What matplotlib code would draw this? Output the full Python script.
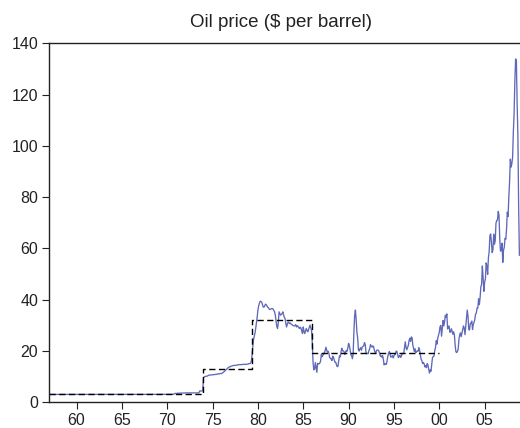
import matplotlib
matplotlib.use("Agg")
import matplotlib.pyplot as plt
import numpy as np

plt.rcParams['font.family'] = ['Liberation Sans', 'DejaVu Sans']

# monthly oil price, Jan 1957 .. Nov 2008
start_year = 1957
oil_1957_69 = [
    2.97, 2.97, 2.97, 2.97, 2.97, 2.97, 2.97, 2.97, 2.97, 2.97, 2.97, 2.97,
    2.97, 2.97, 2.97, 2.97, 2.97, 2.97, 2.97, 2.97, 2.97, 2.97, 2.97, 2.97,
    2.97, 2.97, 2.97, 2.97, 2.97, 2.97, 2.97, 2.97, 2.97, 2.97, 2.97, 2.97,
    2.97, 2.97, 2.97, 2.97, 2.97, 2.97, 2.97, 2.97, 2.97, 2.97, 2.97, 2.97,
    2.97, 2.97, 2.97, 2.97, 2.97, 2.97, 2.97, 2.97, 2.97, 2.97, 2.97, 2.97,
    2.97, 2.97, 2.97, 2.97, 2.97, 2.97, 2.97, 2.97, 2.97, 2.97, 2.97, 2.97,
    2.97, 2.97, 2.97, 2.97, 2.97, 2.97, 2.97, 2.97, 2.97, 2.97, 2.97, 2.97,
    2.97, 2.97, 2.97, 2.97, 2.97, 2.97, 2.97, 2.97, 2.97, 2.97, 2.97, 2.97,
    2.97, 2.97, 2.97, 2.97, 2.97, 2.97, 2.97, 2.97, 2.97, 2.97, 2.97, 2.97,
    2.97, 2.97, 2.97, 2.97, 2.97, 2.97, 2.97, 2.97, 2.97, 2.97, 2.97, 2.97,
    2.97, 2.97, 2.97, 2.97, 2.97, 2.97, 2.97, 2.97, 2.97, 2.97, 2.97, 2.97,
    2.97, 2.97, 2.97, 2.97, 2.97, 2.97, 2.97, 2.97, 2.97, 2.97, 2.97, 2.97,
    2.97, 2.97, 2.97, 2.97, 2.97, 2.97, 2.97, 2.97, 2.97, 2.97, 2.97, 2.97,
]
oil_1970s = [
    3.00, 3.00, 3.00, 3.00, 3.00, 3.00, 3.00, 3.00, 3.00, 3.10, 3.35, 3.35,
    3.35, 3.35, 3.45, 3.45, 3.45, 3.45, 3.50, 3.50, 3.50, 3.50, 3.50, 3.50,
    3.56, 3.56, 3.56, 3.56, 3.56, 3.56, 3.56, 3.56, 3.56, 3.56, 3.56, 3.56,
    3.56, 3.56, 3.56, 3.56, 3.56, 3.56, 3.56, 4.31, 4.31, 4.31, 4.31, 4.40,
    9.60, 9.80, 9.90, 10.0, 10.1, 10.1, 10.3, 10.5, 10.5, 10.5, 10.6, 10.6,
    10.6, 10.7, 10.7, 10.7, 10.8, 10.8, 10.9, 10.9, 11.0, 11.0, 11.1, 11.1,
    11.2, 11.3, 11.5, 11.8, 12.0, 12.4, 12.6, 12.9, 13.2, 13.5, 13.7, 13.7,
    13.9, 14.0, 14.1, 14.2, 14.3, 14.3, 14.3, 14.3, 14.4, 14.5, 14.5, 14.6,
    14.6, 14.6, 14.6, 14.6, 14.7, 14.7, 14.7, 14.7, 14.7, 14.7, 14.8, 14.8,
    15.0, 15.0, 15.1, 15.5, 17.5, 21.0, 24.0, 25.5, 26.7, 28.5, 30.6, 33.0,
]
oil_1980s = [
    35.8, 37.5, 38.5, 39.3, 39.3, 39.0, 38.0, 37.1, 37.0, 37.5, 38.2, 38.0,
    37.5, 37.0, 36.8, 36.2, 36.1, 36.3, 36.4, 36.5, 36.3, 35.8, 35.2, 34.0,
    31.9, 29.5, 28.7, 31.0, 35.2, 34.5, 33.9, 34.2, 34.5, 35.2, 34.0, 33.0,
    32.6, 30.5, 29.3, 30.5, 31.2, 31.0, 30.6, 30.8, 30.4, 30.2, 30.0, 29.8,
    29.7, 29.8, 30.2, 29.3, 29.8, 29.6, 29.0, 28.7, 29.2, 28.8, 27.8, 26.7,
    29.3, 27.5, 26.7, 27.8, 28.7, 27.9, 27.4, 28.2, 29.2, 30.0, 29.0, 28.0,
    22.9, 15.4, 12.6, 12.8, 15.4, 13.4, 11.6, 15.1, 14.9, 14.9, 15.2, 16.1,
    18.7, 17.7, 18.3, 18.6, 19.4, 20.0, 21.4, 20.3, 19.5, 19.8, 18.9, 17.3,
    17.1, 16.7, 16.2, 17.9, 17.4, 16.5, 15.5, 15.5, 14.5, 13.8, 14.0, 16.3,
    18.0, 17.6, 19.6, 21.0, 20.0, 20.0, 19.6, 18.5, 19.6, 20.1, 19.8, 21.1,
]
oil_1990s = [
    22.9, 22.1, 20.4, 18.4, 18.2, 16.9, 18.6, 27.2, 33.7, 35.9, 32.3, 27.3,
    25.0, 20.5, 19.9, 20.8, 21.2, 20.2, 21.4, 21.7, 21.9, 23.2, 22.5, 19.5,
    18.8, 19.0, 18.9, 20.2, 20.9, 22.4, 21.8, 21.4, 21.9, 21.7, 20.3, 19.4,
    19.1, 20.1, 20.3, 20.3, 19.9, 19.1, 17.9, 18.0, 17.5, 18.1, 16.7, 14.5,
    15.0, 14.8, 14.7, 16.4, 17.9, 19.1, 19.7, 18.4, 17.5, 17.7, 18.1, 17.2,
    18.0, 18.5, 18.6, 19.9, 19.7, 18.4, 17.3, 18.0, 18.2, 17.4, 18.0, 19.0,
    18.9, 19.1, 21.3, 23.5, 21.2, 20.4, 21.3, 22.0, 24.0, 24.9, 23.7, 25.4,
    25.1, 22.2, 21.0, 19.7, 20.8, 19.3, 19.7, 19.9, 19.8, 21.3, 20.2, 18.3,
    16.7, 16.1, 15.0, 15.4, 14.9, 13.7, 14.2, 13.4, 15.0, 14.4, 12.9, 11.3,
    12.5, 12.0, 14.7, 17.3, 17.8, 17.9, 20.1, 21.3, 23.9, 22.6, 25.0, 26.1,
]
oil_2000s = [
    27.2, 29.4, 29.9, 25.7, 28.8, 31.8, 29.7, 31.3, 33.9, 33.1, 34.4, 28.5,
    29.6, 29.6, 27.2, 27.4, 28.6, 27.6, 26.4, 27.4, 26.2, 22.2, 19.6, 19.3,
    19.7, 20.7, 24.4, 26.2, 27.0, 25.5, 26.9, 28.4, 29.7, 28.9, 26.3, 29.4,
    32.9, 35.9, 33.5, 28.3, 28.1, 30.7, 30.8, 31.6, 28.3, 30.3, 31.1, 32.2,
    34.3, 34.7, 36.7, 36.7, 40.3, 38.0, 40.7, 44.9, 46.0, 53.1, 48.5, 43.2,
    46.8, 48.0, 54.3, 53.0, 49.8, 56.3, 58.7, 65.0, 65.6, 62.3, 58.3, 59.4,
    65.5, 61.6, 62.9, 69.7, 70.9, 71.0, 74.4, 73.0, 63.8, 58.9, 59.1, 62.0,
    54.5, 59.3, 60.4, 63.9, 63.5, 67.5, 74.1, 72.4, 79.9, 85.8, 94.8, 91.7,
    93.0, 95.4, 105.5, 112.6, 125.4, 133.9, 133.4, 116.7, 104.1, 76.6, 57.3,
]

# regime means (dashed step line)
regime_breaks = [1957.0, 1973.92, 1979.33, 1985.92, 2000.0]
regime_levels = [3.0, 12.8, 31.9, 19.3]

x_ticks = [1960, 1965, 1970, 1975, 1980, 1985, 1990, 1995, 2000, 2005]
y_ticks = [0, 20, 40, 60, 80, 100, 120, 140]


def main():
    price = np.array(oil_1957_69 + oil_1970s + oil_1980s + oil_1990s + oil_2000s)
    t = start_year + np.arange(len(price)) / 12.0

    fig = plt.figure(figsize=(5.2, 4.28), dpi=100)
    ax = fig.add_axes([0.0948, 0.0607, 0.9052, 0.8381])

    ax.plot(t, price, color='#5f69b8', lw=0.95)
    ax.plot(regime_breaks, regime_levels + regime_levels[-1:], color='black',
            lw=1.0, ls=(0, (4.5, 2.5)), drawstyle='steps-post')

    ax.set_xlim(1957.0, 2008.9)
    ax.set_ylim(0, 140)
    ax.set_xticks(x_ticks)
    ax.set_xticklabels(['%02d' % (y % 100) for y in x_ticks])
    ax.set_yticks(y_ticks)
    ax.tick_params(labelsize=11.5, length=5, width=0.8, pad=3, colors='#222222')
    ax.spines['right'].set_visible(False)
    for s in ['left', 'bottom', 'top']:
        ax.spines[s].set_linewidth(1.0)
        ax.spines[s].set_color('#222222')

    fig.text(0.54, 0.947, 'Oil price ($ per barrel)', ha='center', va='center',
             fontsize=13.5, color='#222222')

    fig.savefig('out.png', dpi=100)


if __name__ == '__main__':
    main()
